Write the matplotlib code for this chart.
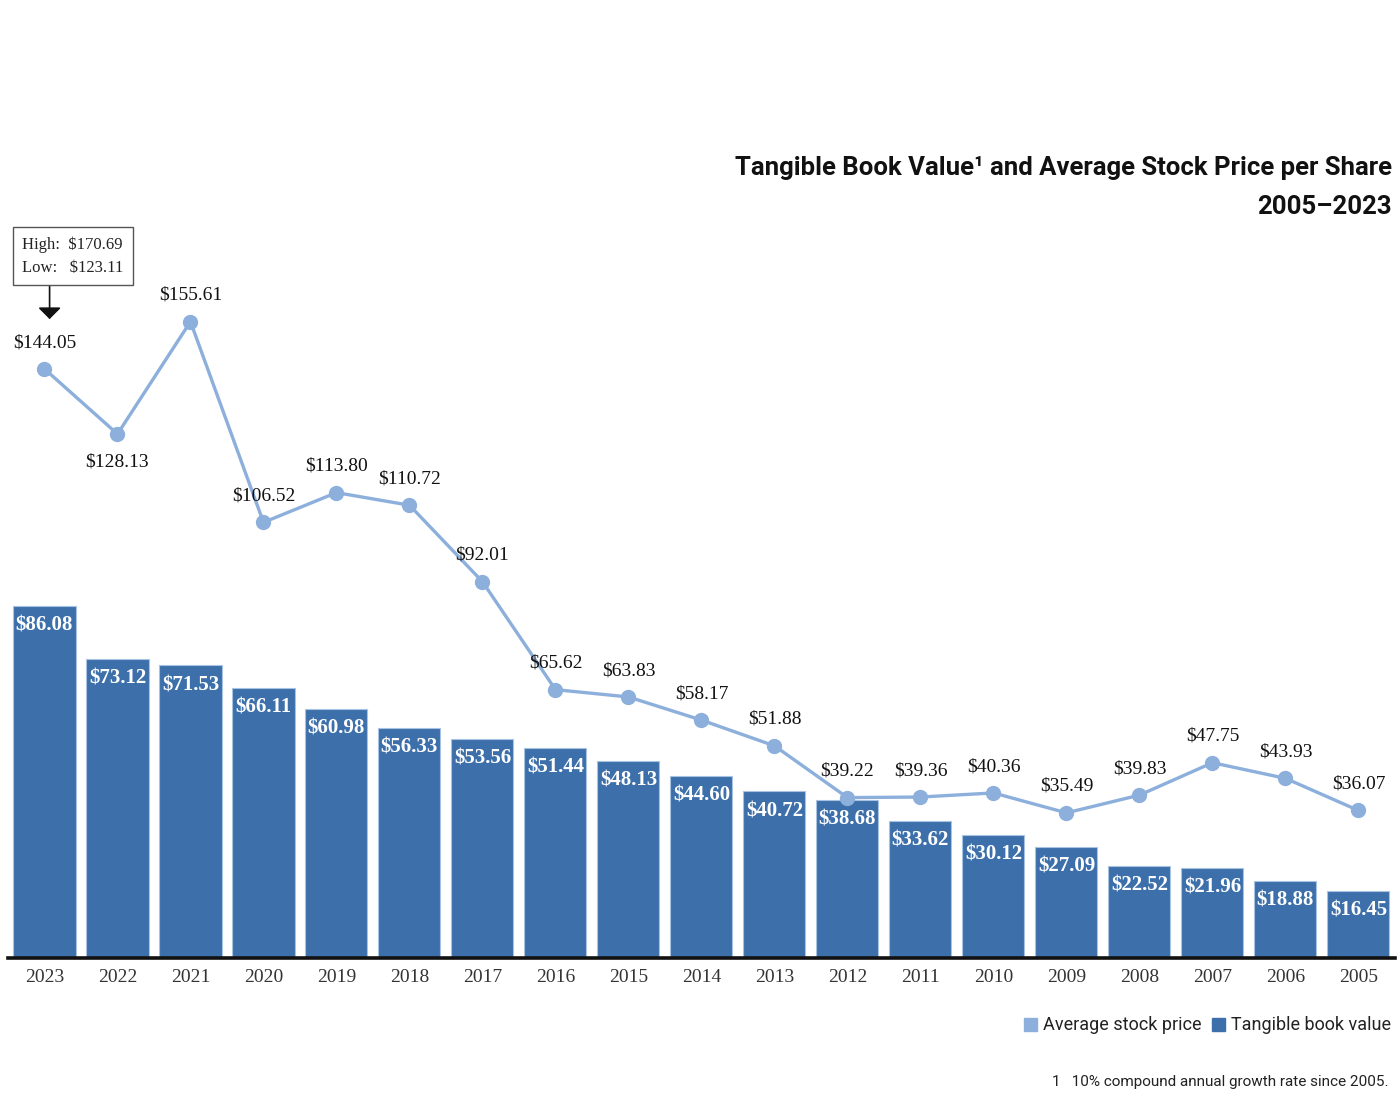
import numpy as np
import matplotlib
matplotlib.use('Agg')
import matplotlib.pyplot as plt
from matplotlib.patches import Rectangle

# data
years = [2005, 2006, 2007, 2008, 2009, 2010, 2011, 2012, 2013, 2014,
         2015, 2016, 2017, 2018, 2019, 2020, 2021, 2022, 2023]
book_value = [16.45, 18.88, 21.96, 22.52, 27.09, 30.12, 33.62, 38.68, 40.72, 44.60,
              48.13, 51.44, 53.56, 56.33, 60.98, 66.11, 71.53, 73.12, 86.08]
stock_price = [36.07, 43.93, 47.75, 39.83, 35.49, 40.36, 39.36, 39.22, 51.88, 58.17,
               63.83, 65.62, 92.01, 110.72, 113.80, 106.52, 155.61, 128.13, 144.05]
price_high = 170.69
price_low = 123.11

bar_color = '#3d70aa'
line_color = '#8cafdc'
serif = ['Liberation Serif', 'DejaVu Serif']
sans = ['Roboto', 'Liberation Sans', 'DejaVu Sans']

fig = plt.figure(figsize=(14, 11.12), dpi=100)
ax = fig.add_axes([0.0057, 0.1385, 0.9907, 0.7355])

x = np.arange(len(years))
ax.bar(x, book_value, width=0.85, color=bar_color, edgecolor='#a8c2e2', linewidth=0.8, zorder=2)
ax.plot(x, stock_price, color=line_color, lw=2.4, marker='o', ms=10, zorder=3)

# bar labels
for xi, v in zip(x, book_value):
    ax.annotate(f'${v:.2f}', (xi, v), xytext=(0, -7), textcoords='offset points',
                ha='center', va='top', color='white', fontsize=15, fontweight='bold',
                family=serif, zorder=4)

# line labels (2022 below the point)
for xi, v, yr in zip(x, stock_price, years):
    dy = -20 if yr == 2022 else 19
    ax.annotate(f'${v:.2f}', (xi, v), xytext=(0, dy), textcoords='offset points',
                ha='center', va='center', color='#111111', fontsize=14,
                family=serif, zorder=4)

ax.set_xlim(len(years) - 0.5, -0.5)   # latest year on the left
ax.set_ylim(0, 200)
ax.set_xticks(x)
ax.set_xticklabels([str(y) for y in years], family=serif, fontsize=14, color='#333333')
ax.tick_params(axis='x', length=0, pad=8)
ax.set_yticks([])
for s in ['top', 'left', 'right']:
    ax.spines[s].set_visible(False)
ax.spines['bottom'].set_linewidth(2.6)
ax.spines['bottom'].set_color('#111111')
ax.spines['bottom'].set_zorder(5)

# high / low box with arrow to the 2023 point
fig.text(0.016, 1 - 256 / 1112, f'High:  ${price_high:.2f}\nLow:   ${price_low:.2f}',
         ha='left', va='center', fontsize=12, family=serif, color='#222222', linespacing=1.6,
         bbox=dict(boxstyle='square,pad=0.55', fc='white', ec='#555555', lw=1))
ax.annotate('', xy=(x[-1] - 0.07, stock_price[-1] + 11.5), xytext=(x[-1] - 0.07, stock_price[-1] + 21),
            arrowprops=dict(arrowstyle='-|>,head_width=0.7,head_length=0.7', color='#111111', lw=1.2),
            annotation_clip=False)

# title
fig.text(0.994, 1 - 168 / 1112, 'Tangible Book Value\u00b9 and Average Stock Price per Share',
         ha='right', va='center', fontsize=18.5, fontweight='bold', family=sans, color='#111111')
fig.text(0.994, 1 - 207 / 1112, '2005\u20132023',
         ha='right', va='center', fontsize=18.5, fontweight='bold', family=sans, color='#111111')

# legend
ly = 1 - 1025 / 1112
fig.patches.append(Rectangle((1024 / 1400, ly - 6 / 1112), 13 / 1400, 13 / 1112,
                             transform=fig.transFigure, color=line_color))
fig.text(1043 / 1400, ly, 'Average stock price', ha='left', va='center', fontsize=13,
         family=sans, color='#222222')
fig.patches.append(Rectangle((1212 / 1400, ly - 6 / 1112), 13 / 1400, 13 / 1112,
                             transform=fig.transFigure, color=bar_color))
fig.text(1231 / 1400, ly, 'Tangible book value', ha='left', va='center', fontsize=13,
         family=sans, color='#222222')

# footnote
fig.text(0.992, 1 - 1082 / 1112, '1   10% compound annual growth rate since 2005.',
         ha='right', va='center', fontsize=11, family=sans, color='#222222')

fig.savefig('out.png', dpi=100, facecolor='white')
